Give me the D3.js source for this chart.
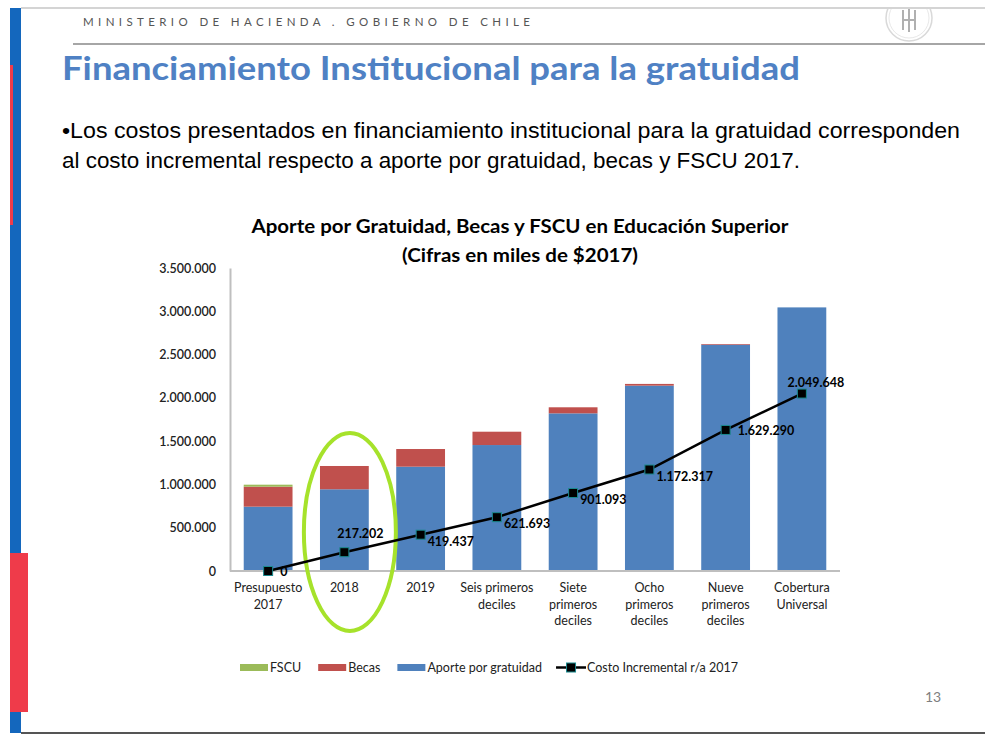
<!DOCTYPE html>
<html>
<head>
<meta charset="utf-8">
<script src="https://cdn.jsdelivr.net/npm/d3@7"></script>
<style>
  body { margin: 0; background: #fff; }
  svg { display: block; }
</style>
</head>
<body>
<div id="slide"></div>
<script>
// chart data (miles de $2017)
var categories = ['Presupuesto 2017', '2018', '2019', 'Seis primeros deciles', 'Siete primeros deciles',
  'Ocho primeros deciles', 'Nueve primeros deciles', 'Cobertura Universal']
var tickLines = [['Presupuesto', '2017'], ['2018'], ['2019'], ['Seis primeros', 'deciles'],
  ['Siete', 'primeros', 'deciles'], ['Ocho', 'primeros', 'deciles'], ['Nueve', 'primeros', 'deciles'],
  ['Cobertura', 'Universal']]
var aporte = [743000, 944000, 1205000, 1455000, 1821000, 2141000, 2614000, 3045000]
var becas = [231000, 269000, 204000, 154000, 70000, 20000, 8000, 0]
var fscu = [23000, 0, 0, 0, 0, 0, 0, 0]
var costo = [0, 217202, 419437, 621693, 901093, 1172317, 1629290, 2049648]
var yTicks = [0, 500000, 1000000, 1500000, 2000000, 2500000, 3000000, 3500000]
var labelPlace = ['right', 'above', 'belowRight', 'belowRight', 'belowRight', 'belowRight', 'right', 'aboveTight']
var seriesNames = ['FSCU', 'Becas', 'Aporte por gratuidad', 'Costo Incremental r/a 2017']

var COLOR = {
  APORTE: '#4f81bd',
  BECAS: '#c0504d',
  FSCU: '#9bbb59',
  AXIS: '#bfbfbf',
  TITLE: '#4f81c4',
  STRIP_BLUE: '#1467bd',
  STRIP_RED: '#ef3b4a',
  CIRCLE: '#a6e22b'
}
var CAL = 'Lato, "Open Sans", sans-serif'
var ARIAL = '"Liberation Sans", Arial, sans-serif'

var W = 985, H = 735
var svg = d3.select('#slide').append('svg').attr('width', W).attr('height', H)

// ---- slide frame ----
svg.append('rect').attr('x', 10).attr('y', 8).attr('width', 11).attr('height', 725).attr('fill', COLOR.STRIP_BLUE)
svg.append('rect').attr('x', 10).attr('y', 65).attr('width', 3).attr('height', 160).attr('fill', COLOR.STRIP_RED)
svg.append('rect').attr('x', 10).attr('y', 553).attr('width', 18).attr('height', 159).attr('fill', COLOR.STRIP_RED)
svg.append('line').attr('x1', 21).attr('x2', W).attr('y1', 8).attr('y2', 8).attr('stroke', '#d4d4d4').attr('stroke-width', 2)
svg.append('line').attr('x1', 73).attr('x2', W).attr('y1', 44).attr('y2', 44).attr('stroke', '#a6a6a6').attr('stroke-width', 2)
svg.append('line').attr('x1', 21).attr('x2', W).attr('y1', 733).attr('y2', 733).attr('stroke', '#555').attr('stroke-width', 2)

// logo (faded seal)
var logo = svg.append('g').attr('transform', 'translate(909,18)')
logo.append('clipPath').attr('id', 'logoClip').append('rect').attr('x', -30).attr('y', -9).attr('width', 60).attr('height', 40)
var lg = logo.append('g').attr('clip-path', 'url(#logoClip)')
lg.append('circle').attr('r', 23).attr('fill', 'none').attr('stroke', '#d9d9d9').attr('stroke-width', 1.5)
lg.append('circle').attr('r', 20).attr('fill', 'none').attr('stroke', '#e8e8e8').attr('stroke-width', 1)
lg.append('path').attr('d', 'M-6,-8 V12 M6,-8 V12 M-6,2 H6 M0,-10 V14')
  .attr('stroke', '#b0b0b0').attr('stroke-width', 2).attr('fill', 'none')

svg.append('text')
  .attr('x', 83).attr('y', 26)
  .attr('textLength', 447).attr('lengthAdjust', 'spacing')
  .attr('font-family', CAL).attr('font-size', 11.5).attr('font-weight', 400)
  .attr('fill', '#555')
  .text('MINISTERIO DE HACIENDA . GOBIERNO DE CHILE')

svg.append('text')
  .attr('x', 62).attr('y', 80)
  .attr('textLength', 738).attr('lengthAdjust', 'spacingAndGlyphs')
  .attr('font-family', CAL).attr('font-size', 32).attr('font-weight', 700)
  .attr('fill', COLOR.TITLE)
  .text('Financiamiento Institucional para la gratuidad')

var bullet = [['•Los costos presentados en financiamiento institucional para la gratuidad corresponden', 138, 898],
  ['al costo incremental respecto a aporte por gratuidad, becas y FSCU 2017.', 168, 738]]
bullet.forEach(function (b) {
  svg.append('text')
    .attr('x', 62).attr('y', b[1])
    .attr('textLength', b[2]).attr('lengthAdjust', 'spacingAndGlyphs')
    .attr('font-family', ARIAL).attr('font-size', 21.5)
    .attr('fill', '#000')
    .text(b[0])
})

svg.append('text')
  .attr('x', 925).attr('y', 702)
  .attr('font-family', CAL).attr('font-size', 14).attr('fill', '#7f7f7f')
  .text('13')

// ---- chart ----
var chartTitle = [['Aporte por Gratuidad, Becas y FSCU en Educación Superior', 233, 537],
  ['(Cifras en miles de $2017)', 262, 236]]
chartTitle.forEach(function (t) {
  svg.append('text')
    .attr('x', 520).attr('y', t[1])
    .attr('text-anchor', 'middle')
    .attr('textLength', t[2]).attr('lengthAdjust', 'spacingAndGlyphs')
    .attr('font-family', CAL).attr('font-size', 18).attr('font-weight', 700)
    .attr('fill', '#000')
    .text(t[0])
})

var plot = { left: 230, right: 840, top: 268, bottom: 571 }

var x = d3.scaleBand()
  .domain(categories)
  .range([plot.left, plot.right])
  .paddingInner(0.36)
  .paddingOuter(0.18)

var y = d3.scaleLinear()
  .domain([0, 3500000])
  .range([plot.bottom, plot.top])

var fmt = d3.formatLocale({ decimal: ',', thousands: '.', grouping: [3], currency: ['$', ''] }).format(',d')

// stacked bars
var table = categories.map(function (c, i) {
  return { cat: c, aporte: aporte[i], becas: becas[i], fscu: fscu[i] }
})
var stack = d3.stack().keys(['aporte', 'becas', 'fscu'])(table)
var fillFor = { aporte: COLOR.APORTE, becas: COLOR.BECAS, fscu: COLOR.FSCU }

svg.append('g').selectAll('g')
  .data(stack)
  .enter()
  .append('g')
  .attr('fill', function (s) { return fillFor[s.key] })
  .selectAll('rect')
  .data(function (s) { return s })
  .enter()
  .append('rect')
  .attr('x', function (d) { return x(d.data.cat) })
  .attr('width', x.bandwidth())
  .attr('y', function (d) { return y(d[1]) })
  .attr('height', function (d) { return y(d[0]) - y(d[1]) })

// axes
var yAxis = svg.append('g')
  .attr('transform', 'translate(' + plot.left + ',0)')
  .call(d3.axisLeft(y).tickValues(yTicks).tickSize(0).tickPadding(14).tickFormat(fmt))
yAxis.select('.domain').attr('stroke', COLOR.AXIS).attr('stroke-width', 2)
yAxis.selectAll('text')
  .attr('font-family', CAL).attr('font-size', 12.5).attr('font-weight', 600).attr('fill', '#222')

svg.append('line')
  .attr('x1', plot.left).attr('x2', plot.right)
  .attr('y1', plot.bottom).attr('y2', plot.bottom)
  .attr('stroke', COLOR.AXIS).attr('stroke-width', 2)

var xLabels = svg.append('g')
categories.forEach(function (c, i) {
  var t = xLabels.append('text')
    .attr('x', x(c) + x.bandwidth() / 2)
    .attr('y', 592)
    .attr('text-anchor', 'middle')
    .attr('font-family', CAL).attr('font-size', 12.5).attr('fill', '#222')
  tickLines[i].forEach(function (line, k) {
    t.append('tspan')
      .attr('x', x(c) + x.bandwidth() / 2)
      .attr('dy', k === 0 ? 0 : 16.5)
      .text(line)
  })
})

// highlight ellipse around 2018
svg.append('ellipse')
  .attr('cx', x('2018') + x.bandwidth() / 2 + 5.5)
  .attr('cy', 532)
  .attr('rx', 46)
  .attr('ry', 99)
  .attr('fill', 'none')
  .attr('stroke', COLOR.CIRCLE)
  .attr('stroke-width', 4)

// incremental cost line
var cx = function (i) { return x(categories[i]) + x.bandwidth() / 2 }
var line = d3.line()
  .x(function (d, i) { return cx(i) })
  .y(function (d) { return y(d) })

svg.append('path')
  .datum(costo)
  .attr('d', line)
  .attr('fill', 'none')
  .attr('stroke', '#000')
  .attr('stroke-width', 2.5)

svg.append('g').selectAll('rect')
  .data(costo)
  .enter()
  .append('rect')
  .attr('x', function (d, i) { return cx(i) - 4.5 })
  .attr('y', function (d) { return y(d) - 4.5 })
  .attr('width', 9).attr('height', 9)
  .attr('fill', '#000')
  .attr('stroke', '#1b8a8f').attr('stroke-width', 1)

var offsets = {
  right: [12, 5, 'start'],
  belowRight: [7, 11, 'start'],
  above: [16, -14, 'middle'],
  aboveTight: [14, -7, 'middle']
}
svg.append('g').selectAll('text')
  .data(costo)
  .enter()
  .append('text')
  .attr('x', function (d, i) { return cx(i) + offsets[labelPlace[i]][0] })
  .attr('y', function (d, i) { return y(d) + offsets[labelPlace[i]][1] })
  .attr('text-anchor', function (d, i) { return offsets[labelPlace[i]][2] })
  .attr('font-family', CAL).attr('font-size', 12.5).attr('font-weight', 700)
  .attr('fill', '#000')
  .text(function (d) { return fmt(d) })

// legend
var legend = svg.append('g').attr('font-family', CAL).attr('font-size', 12.5).attr('fill', '#222')
var legendColors = [COLOR.FSCU, COLOR.BECAS, COLOR.APORTE]
var lx = 240
seriesNames.forEach(function (name, i) {
  if (i < 3) {
    legend.append('rect').attr('x', lx).attr('y', 664).attr('width', 28).attr('height', 7).attr('fill', legendColors[i])
  } else {
    legend.append('line').attr('x1', lx).attr('x2', lx + 30).attr('y1', 667.5).attr('y2', 667.5)
      .attr('stroke', '#000').attr('stroke-width', 2.5)
    legend.append('rect').attr('x', lx + 10.5).attr('y', 663).attr('width', 9).attr('height', 9)
      .attr('fill', '#000').attr('stroke', '#1b8a8f')
  }
  var t = legend.append('text').attr('x', lx + (i < 3 ? 30 : 31)).attr('y', 672).text(name)
  lx = lx + (i < 3 ? 30 : 31) + t.node().getComputedTextLength() + (i < 2 ? 17 : 14)
})
</script>
</body>
</html>
